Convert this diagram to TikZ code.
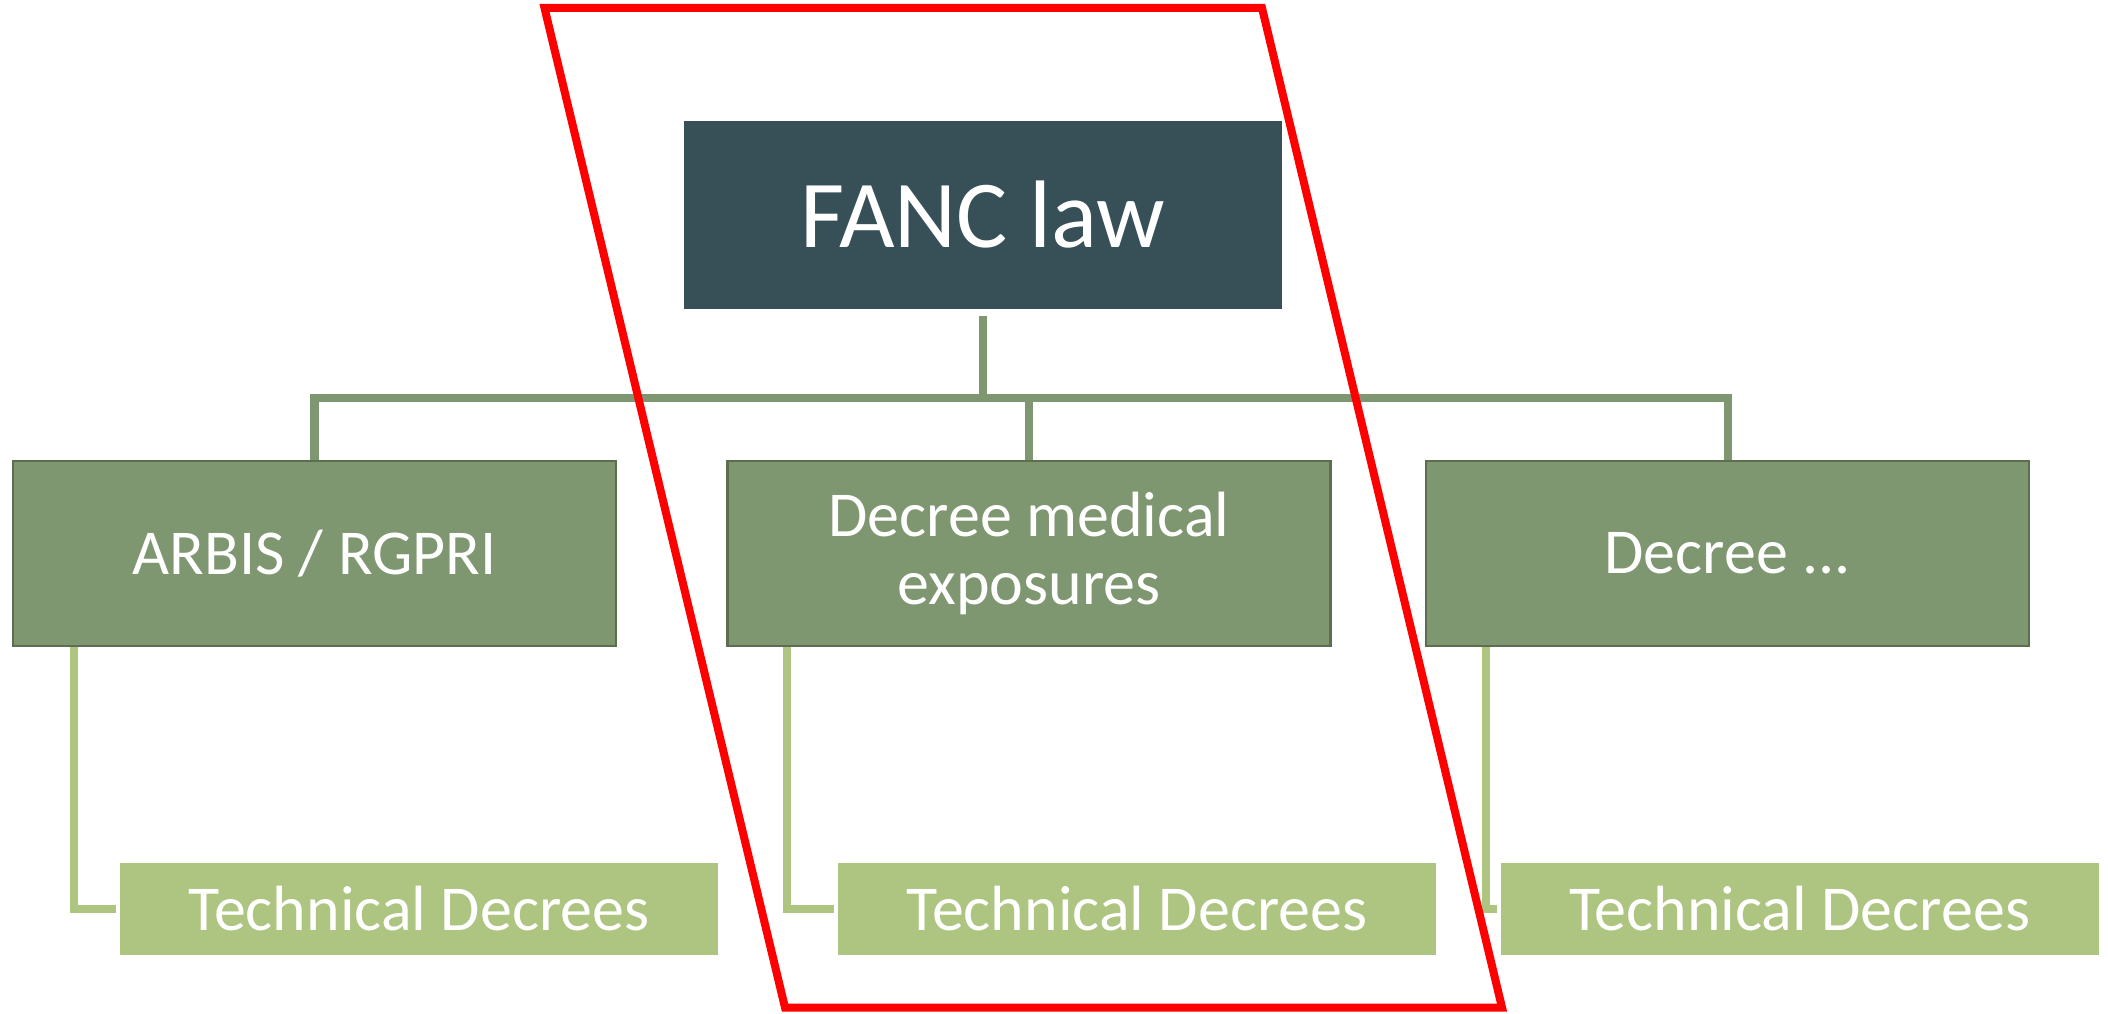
\documentclass[tikz,border=0pt]{standalone}
\usepackage{fontspec}
\setmainfont{Carlito}
\usepackage{tikz}
\usetikzlibrary{positioning,calc}

\definecolor{fancblue}{RGB}{55,80,88}
\definecolor{decgreen}{RGB}{127,151,112}
\definecolor{decedge}{RGB}{93,110,80}
\definecolor{techgreen}{RGB}{173,197,129}
\definecolor{frame}{RGB}{255,0,0}

\begin{document}
\begin{tikzpicture}[line width=2.28pt, node distance=1cm]
            \tikzstyle{lawbox}=[rectangle, fill=fancblue, draw=none, text=white,
            minimum width=5.98cm, minimum height=1.88cm,
            font=\fontsize{27.3}{30}\selectfont]
            \tikzstyle{decbox}=[rectangle, fill=decgreen, draw=decedge, line width=0.6pt,
            text=white, minimum width=6.03cm, minimum height=1.85cm, align=center,
            font=\fontsize{18.2}{19.2}\selectfont]
            \tikzstyle{techbox}=[rectangle, fill=techgreen, draw=none, text=white,
            minimum width=5.98cm, minimum height=0.92cm,
            font=\fontsize{18.2}{20}\selectfont]
            \tikzstyle{treeline}=[draw=decgreen, line width=2.28pt]
            \tikzstyle{subline}=[draw=techgreen, line width=2.28pt]
            %                 F
            %      A          B          C
            %        TA         TB         TC
            \useasboundingbox (0,0) rectangle (21.08,-10.14);
            \node[lawbox] (F) at (9.83,-2.15) {FANC law};
            \node[decbox] (A) at (3.145,-5.535) {ARBIS / RGPRI};
            \node[decbox] (B) at (10.29,-5.535) {Decree medical\\exposures};
            \node[decbox] (C) at (17.275,-5.535) {Decree ...};
            \node[techbox] (TA) at (4.19,-9.09) {Technical Decrees};
            \node[techbox] (TB) at (11.37,-9.09) {Technical Decrees};
            \node[techbox] (TC) at (17.995,-9.09) {Technical Decrees};
            \coordinate (bar) at (9.83,-3.98);
            \draw[treeline] ([yshift=-0.03cm]F.south) -- (bar);
            \draw[treeline] (A.north) |- (bar) -| (C.north);
            \draw[treeline] (B.north) -- (B.north |- bar);
            \draw[subline] ([xshift=0.62cm]A.south west) |- (TA.west);
            \draw[subline] ([xshift=0.61cm]B.south west) |- (TB.west);
            \draw[subline] ([xshift=0.61cm]C.south west) |- (TC.west);
            % red frame round the medical branch
            \draw[frame, line width=2.28pt, line join=miter]
                  (5.445,-0.08) -- (12.62,-0.08) -- (15.02,-10.075)
                  -- (7.85,-10.075) -- cycle;
\end{tikzpicture}
\end{document}
